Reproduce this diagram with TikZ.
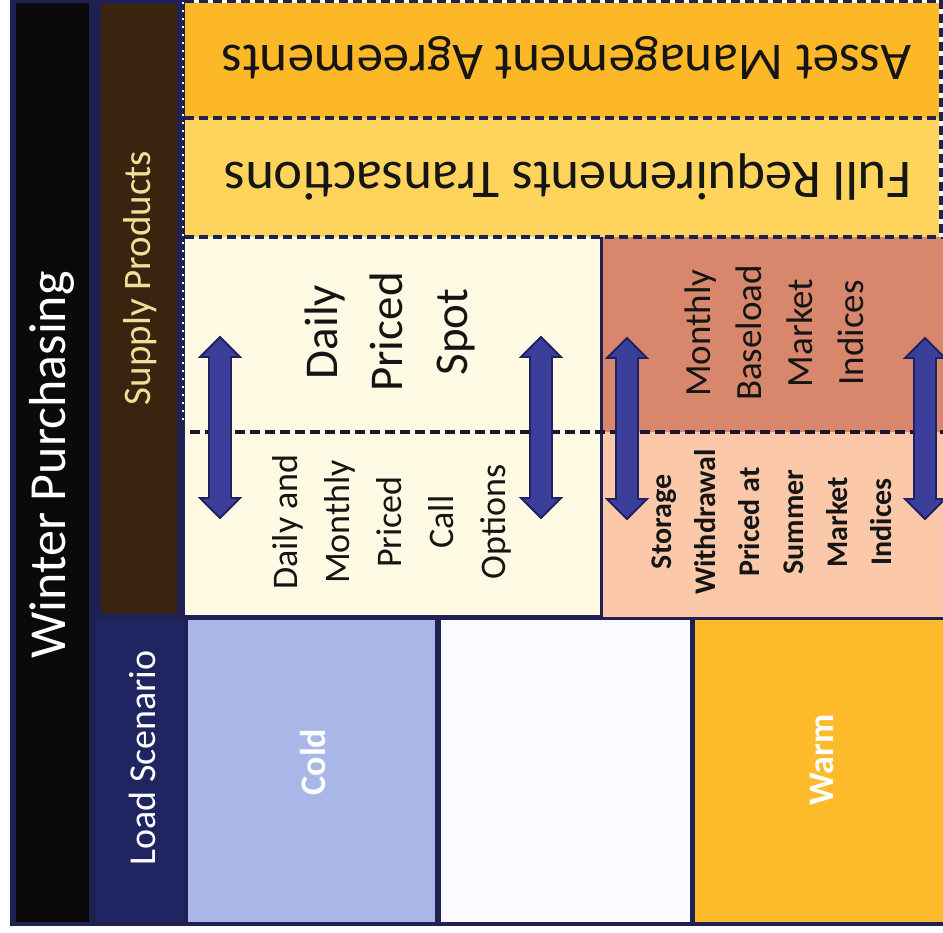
\documentclass[tikz,border=0pt]{standalone}
\usepackage{fontspec}
\setmainfont{Carlito}
\definecolor{navybg}{HTML}{1E2152}
\definecolor{navyld}{HTML}{1F2560}
\definecolor{blackcol}{HTML}{0B0909}
\definecolor{browncol}{HTML}{3A2410}
\definecolor{assetc}{HTML}{FDB828}
\definecolor{fullc}{HTML}{FED45C}
\definecolor{creamc}{HTML}{FFFAE3}
\definecolor{salmonc}{HTML}{D8866C}
\definecolor{peachc}{HTML}{FBC9A9}
\definecolor{coldc}{HTML}{A9B7E8}
\definecolor{warmc}{HTML}{FDBA2A}
\definecolor{arrfill}{HTML}{3C3E9C}
\definecolor{arrline}{HTML}{20215E}
\definecolor{supplytxt}{HTML}{F1E09A}
\definecolor{dashc}{HTML}{1E2250}
\definecolor{midash}{HTML}{17172E}
\definecolor{txtc}{HTML}{151515}
\newcommand{\dblarr}[3]{%
  \draw[arrowshape] (#1,#2) -- ++(20,20) -- ++(-9,0) -- (#1+11,#3-20) -- ++(9,0)
    -- (#1,#3) -- ++(-20,-20) -- ++(9,0) -- (#1-11,#2+20) -- ++(-9,0) -- cycle;}
\tikzset{
  arrowshape/.style={fill=arrfill, draw=arrline, line width=1.8pt, line join=miter},
  dashline/.style={draw=dashc, line width=3.4pt, dash pattern=on 9pt off 5pt},
  lbl/.style={inner sep=0pt, align=center, text=txtc},
}
\begin{document}
\begin{tikzpicture}[x=1pt,y=-1pt]
\useasboundingbox (0,0) rectangle (943,933);
\fill[white] (0,0) rectangle (943,933);
% background
\fill[navybg] (10,0) rectangle (943,926);
\fill[blackcol] (16,3) rectangle (89,922);
\fill[browncol] (101,4) rectangle (177,613);
\fill[navyld] (96,620) rectangle (184,922);
% top boxes
\fill[assetc] (185,3) rectangle (943,118);
\fill[fullc] (185,118) rectangle (943,237);
% middle
\fill[creamc] (185,237) rectangle (600,615);
\fill[salmonc] (603,237) rectangle (943,432);
\fill[peachc] (603,432) rectangle (943,617);
% bottom
\fill[coldc] (188,620) rectangle (435,922);
\fill[white!98!blue] (441,620) rectangle (690,922);
\fill[warmc] (695,620) rectangle (943,922);
% dashed borders
\draw[white, line width=3pt] (185,1.5) -- (943,1.5);
\draw[dashline] (185,1.5) -- (943,1.5);
\draw[dashline] (185,118) -- (943,118);
\draw[dashline] (185,237) -- (943,237);
\draw[white, line width=4pt] (941,0) -- (941,237);
\draw[dashline] (941,0) -- (941,237);
\draw[white, line width=2pt, dash pattern=on 2pt off 6pt] (183,2) -- (183,420);
\draw[draw=midash, line width=3.2pt, dash pattern=on 10pt off 5pt] (190,432) -- (943,432);
% arrows
\dblarr{220}{337}{518}
\dblarr{541}{337}{518}
\dblarr{627}{338}{519}
\dblarr{925}{338}{519}
% texts
\node[lbl, rotate=90, text=white, font=\fontsize{52}{60}\selectfont] (winter) at (52,465) {Winter Purchasing};
\node[lbl, rotate=90, text=supplytxt, font=\fontsize{39}{44}\selectfont] (supply) at (140,278) {Supply Products};
\node[lbl, rotate=90, text=white, font=\fontsize{38}{44}\selectfont] (load) at (142,758) {Load Scenario};
\node[lbl, rotate=180, font=\fontsize{53}{56}\selectfont] (asset) at (567,58) {Asset Management Agreements};
\node[lbl, rotate=180, font=\fontsize{54.5}{56}\selectfont] (fullreq) at (568,177) {Full Requirements Transactions};
\node[lbl, rotate=90, font=\fontsize{47}{65}\selectfont] (spot) at (390,332) {Daily\\Priced\\Spot};
\node[lbl, rotate=90, font=\fontsize{36}{52}\selectfont] (call) at (392,522) {Daily and\\Monthly\\Priced\\Call\\Options};
\node[lbl, rotate=90, font=\fontsize{37}{51}\selectfont] (baseload) at (774,333) {Monthly\\Baseload\\Market\\Indices};
\node[lbl, rotate=90, font=\bfseries\fontsize{30}{44}\selectfont] (storage) at (772,522) {Storage\\Withdrawal\\Priced at\\Summer\\Market\\Indices};
\node[lbl, rotate=90, text=white, font=\bfseries\fontsize{36}{40}\selectfont] (cold) at (313,762) {Cold};
\node[lbl, rotate=90, text=white, font=\bfseries\fontsize{36}{40}\selectfont] (warm) at (822,760) {Warm};
\end{tikzpicture}
\end{document}
